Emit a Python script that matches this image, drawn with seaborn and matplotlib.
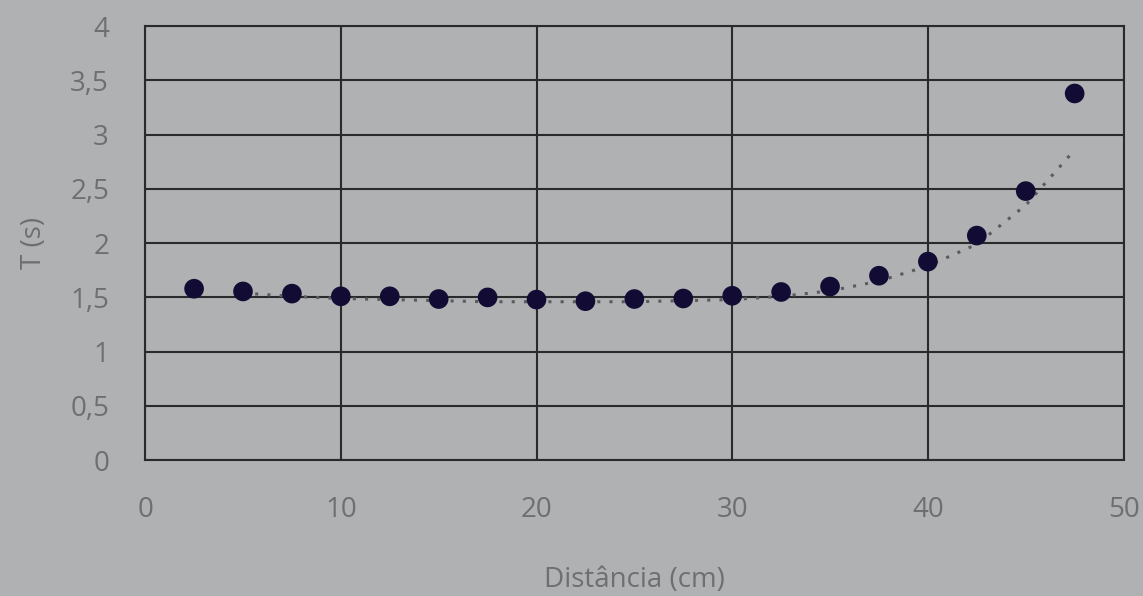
import matplotlib.pyplot as plt
import seaborn as sns
from matplotlib.ticker import FuncFormatter

# measured points
distancia = [2.5, 5, 7.5, 10, 12.5, 15, 17.5, 20, 22.5, 25, 27.5, 30, 32.5, 35, 37.5, 40, 42.5, 45, 47.5]
periodo = [1.58, 1.555, 1.535, 1.51, 1.51, 1.485, 1.50, 1.48, 1.465, 1.485, 1.49, 1.515, 1.55, 1.60, 1.70, 1.83, 2.07, 2.48, 3.38]

# dotted trend line
trend_x = [5, 7.5, 10, 12.5, 15, 17.5, 20, 22.5, 25, 27.5, 30, 32.5, 35, 37.5, 40, 42.5, 45, 47.5]
trend_y = [1.54, 1.51, 1.49, 1.48, 1.47, 1.46, 1.46, 1.46, 1.46, 1.47, 1.48, 1.51, 1.56, 1.65, 1.79, 1.99, 2.35, 2.86]

bg = '#afb1b3'
txt = '#6f6f71'
ink = '#2a2a2c'

sns.set_style('white')
plt.rcParams['font.family'] = ['Open Sans', 'DejaVu Sans']

fig = plt.figure(figsize=(11.43, 5.96), dpi=100, facecolor=bg)
ax = fig.add_axes([0.127, 0.228, 0.856, 0.728])
ax.set_facecolor(bg)

sns.lineplot(x=trend_x, y=trend_y, ax=ax, color='#5a5a60', linestyle=(0, (1, 3)), linewidth=2.2, zorder=2)
sns.scatterplot(x=distancia, y=periodo, ax=ax, s=200, color='#120c35', edgecolor='none', zorder=3)

ax.set_xlim(0, 50)
ax.set_ylim(0, 4)
ax.set_xticks(range(0, 51, 10))
ax.set_yticks([i * 0.5 for i in range(9)])
ax.yaxis.set_major_formatter(FuncFormatter(lambda v, p: ('%g' % v).replace('.', ',')))
ax.grid(True, color=ink, linewidth=1.5)
ax.set_axisbelow(True)
for s in ax.spines.values():
    s.set_color(ink)
    s.set_linewidth(1.5)
ax.tick_params(length=0, labelsize=20, labelcolor=txt)
ax.tick_params(axis='y', pad=26)
ax.tick_params(axis='x', pad=26)

ax.set_xlabel('Distância (cm)', fontsize=20, color=txt, labelpad=30)
ax.set_ylabel('T (s)', fontsize=20, color=txt, labelpad=16)

plt.savefig('out.png', dpi=100, facecolor=bg)
